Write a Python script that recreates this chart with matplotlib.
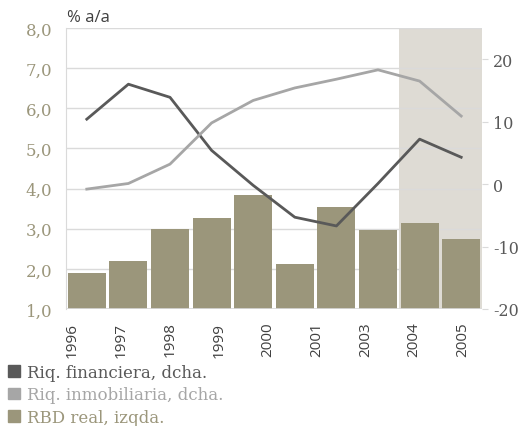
import numpy as np
import matplotlib
matplotlib.use("Agg")
import matplotlib.pyplot as plt
from matplotlib.patches import Patch

plt.rcParams["axes.unicode_minus"] = False

# series
years = ["1996", "1997", "1998", "1999", "2000", "2001", "2003", "2004", "2005"]
rbd_real = [1.9, 2.2, 3.0, 3.27, 3.84, 2.12, 3.54, 2.97, 3.14, 2.74]
riq_financiera = [10.4, 16.0, 13.9, 5.4, -0.2, -5.3, -6.7, 0.1, 7.2, 4.3]
riq_inmobiliaria = [-0.8, 0.1, 3.2, 9.8, 13.4, 15.4, 16.8, 18.3, 16.5, 10.9]

OLIVE = "#9b967b"
DARK = "#595959"
LIGHT = "#a6a6a6"
SHADE = "#dedbd4"
GRID = "#dadada"

fig = plt.figure(figsize=(5.2, 4.27), dpi=100)
ax = fig.add_axes([66 / 520, 1 - 310 / 427, 416 / 520, 281 / 427])
ax2 = ax.twinx()

x = np.arange(len(rbd_real))
ax.axvspan(7.5, 9.5, color=SHADE, zorder=0, lw=0)
ax.bar(x, rbd_real, width=0.91, color=OLIVE, zorder=3, bottom=0)
ax.set_ylim(1, 8)
ax.set_xlim(-0.5, 9.5)
ax.set_yticks(np.arange(1, 9))
ax.set_yticklabels([f"{v},0" for v in range(1, 9)])
ax.yaxis.grid(True, color=GRID, lw=1, zorder=1)
ax.set_axisbelow(True)
for s in ["top", "right", "bottom"]:
    ax.spines[s].set_visible(False)
ax.spines["left"].set_color(GRID)
ax.axhline(1, color=GRID, lw=1.2, zorder=4)
ax.tick_params(axis="y", length=0, pad=10, labelcolor=OLIVE)
for t in ax.get_yticklabels():
    t.set_fontfamily("DejaVu Serif")
    t.set_fontsize(12)

ax.set_xticks(np.linspace(-0.34, 9.04, len(years)))
ax.set_xticklabels(years, rotation=90, fontfamily="Open Sans", fontsize=11,
                   color="#404040")
ax.tick_params(axis="x", length=0, pad=9)

ax2.plot(x, riq_financiera, color=DARK, lw=2, zorder=5)
ax2.plot(x, riq_inmobiliaria, color=LIGHT, lw=2, zorder=5)
ax2.set_ylim(-20, 25)
ax2.set_yticks([-20, -10, 0, 10, 20])
ax2.tick_params(axis="y", length=4, color=GRID, pad=4, labelcolor=DARK)
for t in ax2.get_yticklabels():
    t.set_fontfamily("DejaVu Serif")
    t.set_fontsize(11.5)
for s in ax2.spines.values():
    s.set_visible(False)

fig.text(67 / 520, 1 - 22 / 427, "% a/a", fontfamily="Open Sans", fontsize=12,
         color="#404040")

handles = [Patch(color=DARK), Patch(color=LIGHT), Patch(color=OLIVE)]
labels = ["Riq. financiera, dcha.", "Riq. inmobiliaria, dcha.", "RBD real, izqda."]
fig.legend(handles, labels, loc="upper left", bbox_to_anchor=(8 / 520, 1 - 365 / 427),
           frameon=False, handlelength=0.7, handleheight=0.7, handletextpad=0.45,
           labelspacing=0.32, borderpad=0, borderaxespad=0,
           labelcolor=[DARK, LIGHT, OLIVE],
           prop={"family": "DejaVu Serif", "size": 12})

fig.savefig("out.png", dpi=100)
